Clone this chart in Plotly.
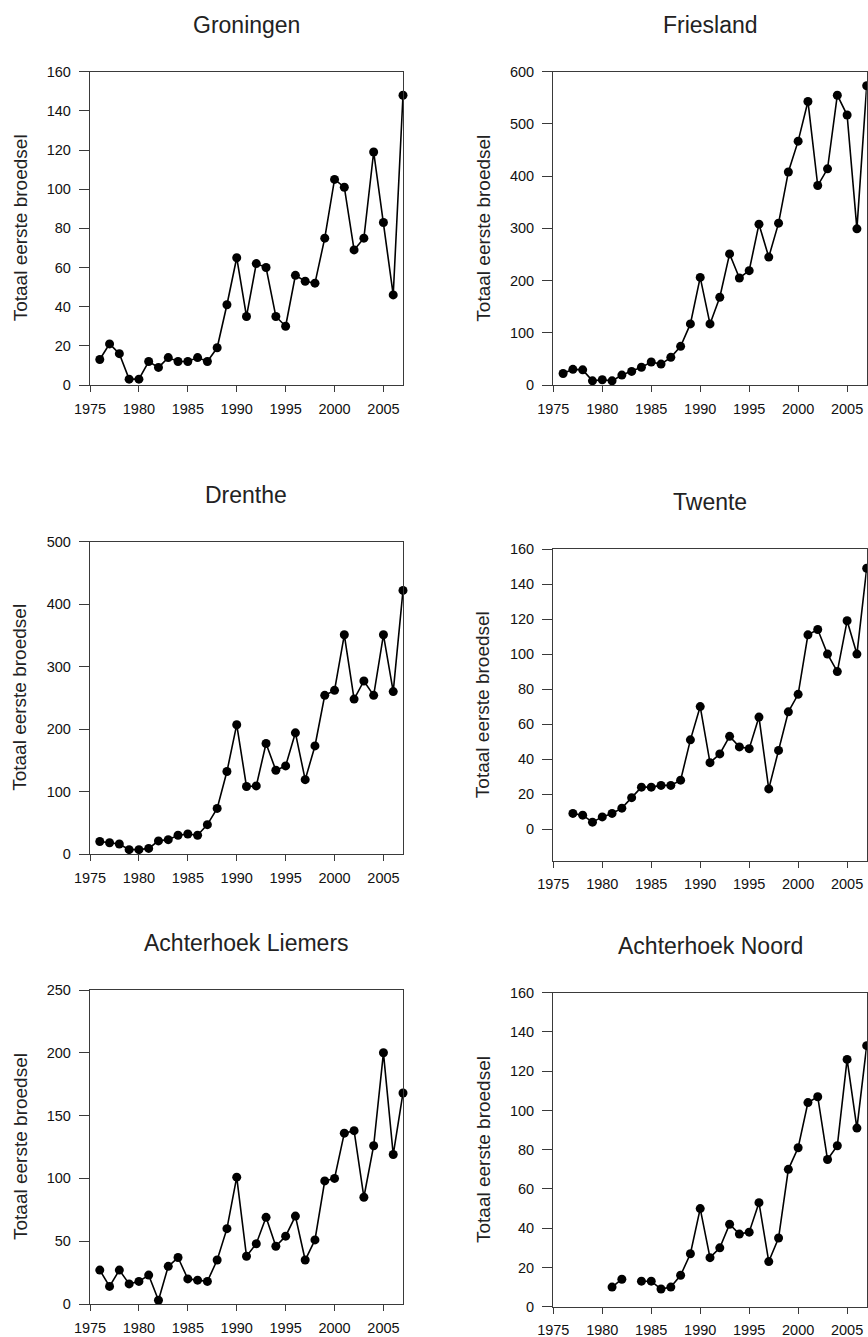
import plotly.graph_objects as go

W, H = 868, 1337

years_76 = list(range(1976, 2008))
years_77 = list(range(1977, 2008))
years_81 = list(range(1981, 2008))

groningen = [13, 21, 16, 3, 3, 12, 9, 14, 12, 12, 14, 12, 19, 41, 65, 35,
             62, 60, 35, 30, 56, 53, 52, 75, 105, 101, 69, 75, 119, 83, 46, 148]
friesland = [22, 30, 29, 8, 10, 8, 19, 26, 34, 44, 40, 53, 74, 117, 206, 117,
             168, 251, 205, 219, 308, 245, 310, 408, 467, 543, 382, 414, 555, 517, 299, 573]
drenthe = [20, 18, 16, 7, 7, 9, 21, 23, 30, 32, 30, 47, 73, 132, 207, 108,
           109, 177, 134, 141, 194, 119, 173, 254, 262, 351, 248, 277, 254, 351, 260, 422]
twente = [9, 8, 4, 7, 9, 12, 18, 24, 24, 25, 25, 28, 51, 70, 38, 43,
          53, 47, 46, 64, 23, 45, 67, 77, 111, 114, 100, 90, 119, 100, 149]
achterhoek_liemers = [27, 14, 27, 16, 18, 23, 3, 30, 37, 20, 19, 18, 35, 60, 101, 38,
                      48, 69, 46, 54, 70, 35, 51, 98, 100, 136, 138, 85, 126, 200, 119, 168]
# 1983 not counted in Achterhoek Noord
achterhoek_noord = [10, 14, None, 13, 13, 9, 10, 16, 27, 50, 25, 30, 42, 37, 38, 53,
                    23, 35, 70, 81, 104, 107, 75, 82, 126, 91, 133]

panels = [
    # name, x, y, y range, y dtick, frame in px (left, right, top, bottom), title y px
    ("Groningen", years_76, groningen, [0, 160], 20, (90, 403, 71.7, 385), 25),
    ("Friesland", years_76, friesland, [0, 600], 100, (553.3, 866.7, 71.7, 385), 25),
    ("Drenthe", years_76, drenthe, [0, 500], 100, (90, 403, 541.7, 854), 495),
    ("Twente", years_77, twente, [-18, 160], 20, (553.3, 866.7, 549, 860.7), 501.7),
    ("Achterhoek Liemers", years_76, achterhoek_liemers, [0, 250], 50, (90, 403, 990, 1304), 943),
    ("Achterhoek Noord", years_81, achterhoek_noord, [0, 160], 20, (553.3, 866.7, 992.7, 1306.7), 946),
]

y_title = "Totaal eerste broedsel"
FONT = "Liberation Sans, Arial, sans-serif"
AXIS_COLOR = "#3a3a3a"
TEXT_COLOR = "#111111"

fig = go.Figure()
layout = dict(
    template="none",
    width=W, height=H,
    margin=dict(l=0, r=0, t=0, b=0, pad=0),
    paper_bgcolor="white", plot_bgcolor="white",
    showlegend=False,
    font=dict(family=FONT, color=TEXT_COLOR),
    annotations=[],
)

for i, (name, xs, ys, yr, dt, (x0, x1, y0, y1), ty) in enumerate(panels, start=1):
    xa = "x" if i == 1 else f"x{i}"
    ya = "y" if i == 1 else f"y{i}"
    fig.add_trace(go.Scatter(
        x=xs, y=ys, xaxis=xa, yaxis=ya, mode="lines+markers",
        line=dict(color="black", width=1.6),
        marker=dict(color="black", size=9),
        cliponaxis=False, connectgaps=False,
    ))
    common = dict(
        showline=True, linecolor=AXIS_COLOR, linewidth=1.4, mirror=True,
        showgrid=False, zeroline=False, ticks="outside", tickcolor=AXIS_COLOR,
        tickwidth=1.2, tickfont=dict(size=14.5, color=TEXT_COLOR, family=FONT),
        automargin=False,
    )
    layout["xaxis" if i == 1 else f"xaxis{i}"] = dict(
        common, domain=[x0 / W, x1 / W], range=[1975, 2007],
        tickmode="linear", tick0=1975, dtick=5, ticklen=6,
        anchor=ya, ticklabelstandoff=4,
    )
    layout["yaxis" if i == 1 else f"yaxis{i}"] = dict(
        common, domain=[1 - y1 / H, 1 - y0 / H], range=yr,
        tickmode="linear", tick0=0, dtick=dt, ticklen=10,
        anchor=xa, ticklabelstandoff=5,
    )
    # panel title
    layout["annotations"].append(dict(
        text=name, xref="paper", yref="paper",
        x=(x0 + x1) / 2 / W, y=1 - ty / H, xanchor="center", yanchor="middle",
        showarrow=False, font=dict(size=23, color="#222", family=FONT),
    ))
    # y-axis title
    layout["annotations"].append(dict(
        text=y_title, xref="paper", yref="paper", textangle=-90,
        x=(x0 - 70) / W, y=1 - (y0 + y1) / 2 / H, xanchor="center", yanchor="middle",
        showarrow=False, font=dict(size=19, color="#222", family=FONT),
    ))

fig.update_layout(**layout)
fig.write_html("out.html")
